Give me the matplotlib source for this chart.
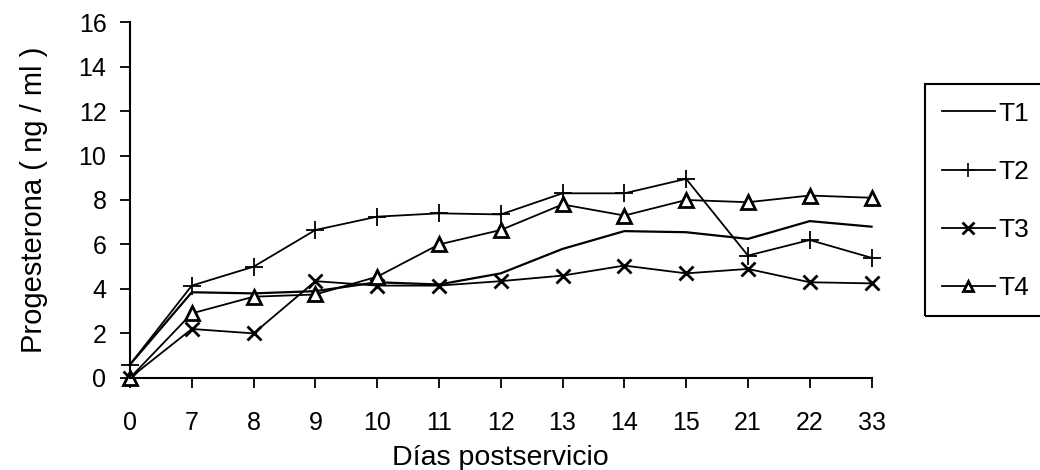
import matplotlib.pyplot as plt
from matplotlib.lines import Line2D
from matplotlib.patches import Rectangle

plt.rcParams['font.family'] = ['Liberation Sans', 'DejaVu Sans']

dias = ['0', '7', '8', '9', '10', '11', '12', '13', '14', '15', '21', '22', '33']
t1 = [0.6, 3.85, 3.8, 3.9, 4.3, 4.2, 4.7, 5.8, 6.6, 6.55, 6.25, 7.05, 6.8]
t2 = [0.6, 4.15, 5.0, 6.65, 7.25, 7.4, 7.35, 8.3, 8.3, 8.95, 5.5, 6.2, 5.4]
t3 = [0.0, 2.2, 2.0, 4.35, 4.15, 4.15, 4.35, 4.6, 5.05, 4.7, 4.9, 4.3, 4.25]
t4 = [0.0, 2.9, 3.65, 3.75, 4.55, 6.0, 6.65, 7.8, 7.3, 8.0, 7.9, 8.2, 8.1]

fig = plt.figure(figsize=(10.4, 4.7), dpi=100)
ax = fig.add_axes([0.125, 0.196, 0.713, 0.757])

x = range(len(dias))
ax.plot(x, t1, color='black', lw=1.6, label='T1')
ax.plot(x, t2, color='black', lw=1.3, marker='+', ms=13, mew=1.3, label='T2')
ax.plot(x, t3, color='black', lw=1.3, marker='x', ms=10, mew=2, label='T3')
ax.plot(x, t4, color='black', lw=1.3, marker='^', ms=10, mew=2,
        mfc='white', label='T4')

ax.set_xlim(0, len(dias) - 1)
ax.set_ylim(0, 16)
ax.set_xticks(list(x))
ax.set_xticklabels(dias)
ax.set_yticks(range(0, 17, 2))
ax.spines['top'].set_visible(False)
ax.spines['right'].set_visible(False)
for s in ['left', 'bottom']:
    ax.spines[s].set_linewidth(1.5)
ax.tick_params(axis='both', labelsize=18, length=7, width=1.3, direction='out')
ax.tick_params(axis='x', pad=17)
ax.tick_params(axis='y', pad=10)
for c in ax.get_lines():
    c.set_clip_on(False)

ax.set_xlabel('Días postservicio', fontsize=20.5, labelpad=7)
ax.set_ylabel('Progesterona ( ng / ml )', fontsize=21, labelpad=22)

# legend box running off the right edge, as in the scan
fig.patches.append(Rectangle((925 / 1040, 1 - 316 / 470), 0.2, 232 / 470,
                             transform=fig.transFigure, fill=False,
                             edgecolor='black', lw=1.5))
handles = [
    Line2D([], [], color='black', lw=1.3),
    Line2D([], [], color='black', lw=1.3, marker='+', ms=10, mew=1.2),
    Line2D([], [], color='black', lw=1.3, marker='x', ms=8, mew=2),
    Line2D([], [], color='black', lw=1.3, marker='^', ms=7, mew=2, mfc='white'),
]
fig.legend(handles, ['T1', 'T2', 'T3', 'T4'], loc='center left',
           bbox_to_anchor=(918 / 1040, 1 - 201 / 470), frameon=False,
           fontsize=19, handlelength=2.0, handletextpad=0.15,
           labelspacing=1.3)

fig.savefig('out.png', dpi=100)
